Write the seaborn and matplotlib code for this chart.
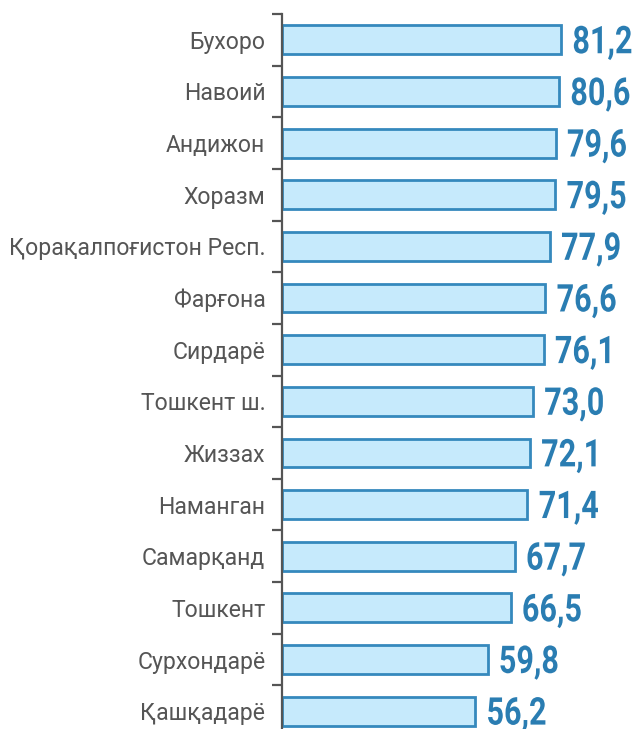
import matplotlib
matplotlib.use("Agg")
import matplotlib.pyplot as plt
import matplotlib.patheffects as pe
from matplotlib.transforms import Affine2D
import seaborn as sns
import pandas as pd

regions = ["Бухоро", "Навоий", "Андижон", "Хоразм", "Қорақалпоғистон Респ.",
           "Фарғона", "Сирдарё", "Тошкент ш.", "Жиззах", "Наманган",
           "Самарқанд", "Тошкент", "Сурхондарё", "Қашқадарё"]
values = [81.2, 80.6, 79.6, 79.5, 77.9, 76.6, 76.1, 73.0, 72.1, 71.4,
          67.7, 66.5, 59.8, 56.2]
value_labels = ["81,2", "80,6", "79,6", "79,5", "77,9", "76,6", "76,1",
                "73,0", "72,1", "71,4", "67,7", "66,5", "59,8", "56,2"]

df = pd.DataFrame({"region": regions, "value": values})

sns.set_style("white")
plt.rcParams["font.family"] = ["Roboto", "DejaVu Sans"]


class Stretch(pe.AbstractPathEffect):
    """Condensed look: stretch glyphs vertically about the baseline."""
    def __init__(self, sx=1.0, sy=1.25):
        super().__init__()
        self.sx, self.sy = sx, sy

    def draw_path(self, renderer, gc, tpath, affine, rgbFace=None):
        new_aff = Affine2D().scale(self.sx, self.sy) + affine
        renderer.draw_path(gc, tpath, new_aff, rgbFace)


fig = plt.figure(figsize=(6.36, 7.29), dpi=100)
ax = fig.add_axes([282/636, 1 - 737/729, 1 - 282/636, (737 - 14)/729])

sns.barplot(data=df, x="value", y="region", orient="h", ax=ax,
            color="#c6eafc", edgecolor="#3589bd", linewidth=2.0,
            width=0.56, saturation=1)

ax.set_xlim(0, 103)
ax.set_ylim(13.5, -0.5)
ax.set_xlabel("")
ax.set_ylabel("")
ax.set_xticks([])

for s in ["top", "right", "bottom"]:
    ax.spines[s].set_visible(False)
ax.spines["left"].set_color("#555555")
ax.spines["left"].set_linewidth(1.6)

ax.set_yticks(range(len(regions)))
ax.set_yticklabels(regions, fontsize=16.6, color="#555555")
ax.tick_params(axis="y", which="major", left=False, length=0, pad=12)
ax.set_yticks([i - 0.5 for i in range(len(regions) + 1)], minor=True)
ax.tick_params(axis="y", which="minor", left=True, length=7, width=1.6,
               color="#555555", direction="out")

for i, (v, lab) in enumerate(zip(values, value_labels)):
    ax.text(v + 3.3, i + 0.26, lab, va="baseline", ha="left", fontsize=22,
            fontweight="bold", color="#2a7db2",
            path_effects=[Stretch(1.0, 1.25)])

fig.savefig("out.png", dpi=100)
